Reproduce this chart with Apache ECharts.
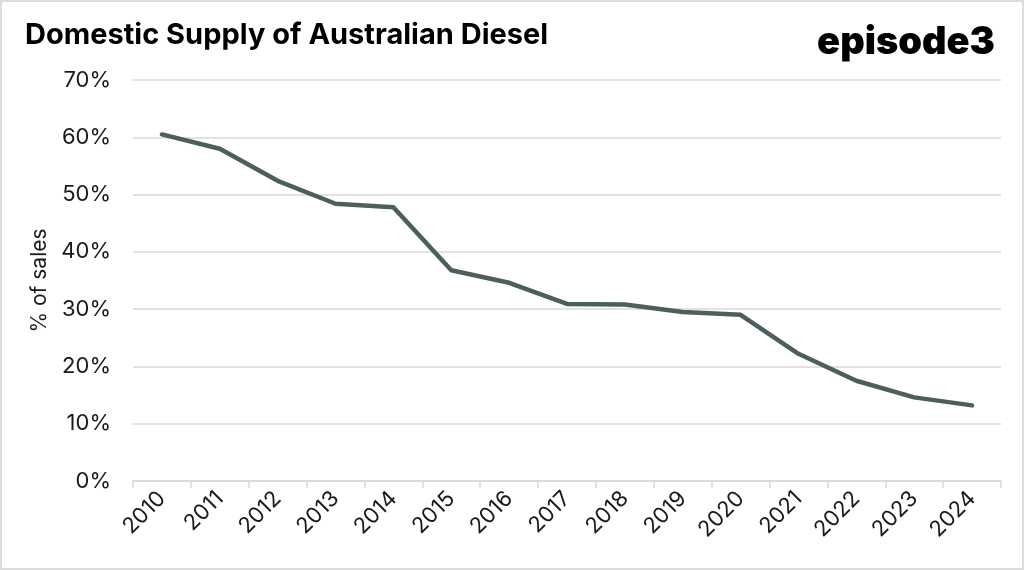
<!DOCTYPE html>
<html><head><meta charset="utf-8">
<script src="https://cdn.jsdelivr.net/npm/echarts@6/dist/echarts.min.js"></script>
<style>html,body{margin:0;padding:0;background:#fff}#c{width:1024px;height:570px;box-sizing:border-box;border:2px solid #dcdcdc}</style>
</head><body><div id="c"></div>
<script>
const years = ['2010','2011','2012','2013','2014','2015','2016','2017','2018','2019','2020','2021','2022','2023','2024'];
const shareOfSales = [60.5, 58.0, 52.4, 48.4, 47.8, 36.8, 34.6, 30.9, 30.8, 29.5, 29.0, 22.2, 17.5, 14.6, 13.2];
const yTicks = [0, 10, 20, 30, 40, 50, 60, 70];
const chart = echarts.init(document.getElementById('c'));
chart.setOption({
  animation: false,
  title: [
    {text: 'Domestic Supply of Australian Diesel', left: 18, top: 14,
     textStyle: {fontFamily: 'Inter', fontWeight: 'bold', fontSize: 29, color: '#000'}},
    {text: 'episode3', right: 22, top: 17,
     textStyle: {fontFamily: 'Inter', fontWeight: 900, fontSize: 38, color: '#000', letterSpacing: -1.5}}
  ],
  grid: {left: 131, right: 21, top: 78, bottom: 87},
  xAxis: {
    type: 'category', data: years, boundaryGap: true,
    axisLine: {lineStyle: {color: '#d9d9d9', width: 1.5}},
    axisTick: {show: true, length: 7, lineStyle: {color: '#d9d9d9', width: 1.5}},
    axisLabel: {rotate: 45, fontFamily: 'Inter', fontSize: 22, color: '#1a1a1a', margin: 14}
  },
  yAxis: {
    type: 'value', min: yTicks[0], max: yTicks[yTicks.length - 1], interval: 10,
    name: '% of sales', nameLocation: 'middle', nameGap: 80,
    nameTextStyle: {fontFamily: 'Inter', fontSize: 21, color: '#1a1a1a'},
    axisLine: {show: false}, axisTick: {show: false},
    axisLabel: {formatter: '{value}%', fontFamily: 'Inter', fontSize: 22, color: '#1a1a1a', margin: 22},
    splitLine: {lineStyle: {color: '#d9d9d9', width: 1.5}}
  },
  series: [{
    type: 'line', data: shareOfSales, symbol: 'none',
    lineStyle: {color: '#4b5f5f', width: 4.5, cap: 'round', join: 'round'}
  }]
});
</script></body></html>
